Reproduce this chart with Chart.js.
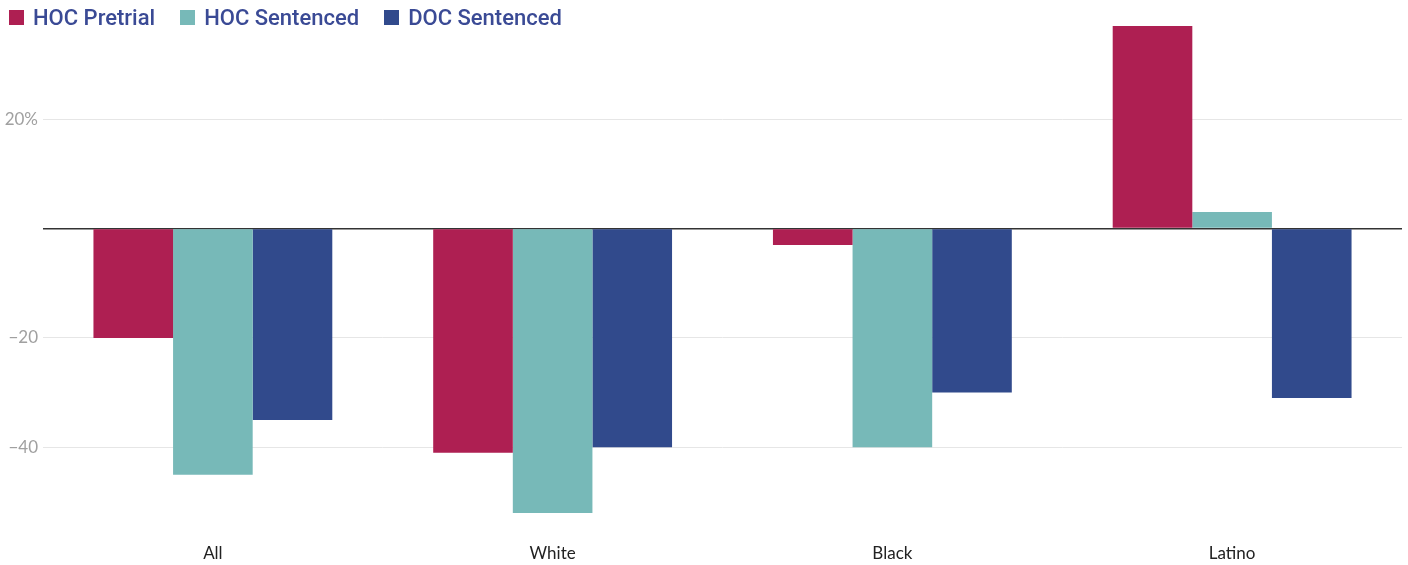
<!DOCTYPE html>
<html>
<head>
<meta charset="utf-8">
<script src="https://cdn.jsdelivr.net/npm/chart.js@4"></script>
<style>
  html, body { margin: 0; padding: 0; background: #fff; overflow: hidden; }
  #wrap { position: relative; width: 1408px; height: 565px; }
  #wrap canvas { display: block; }
  #legend { position: absolute; left: 9px; top: 5px; display: flex; gap: 25px; font-family: 'Roboto', sans-serif; font-weight: 500; font-size: 22px; color: #3a4a95; z-index: 2; }
  #legend span.item { display: flex; align-items: center; }
  #legend span.box { display: inline-block; width: 15px; height: 15px; margin-right: 9px; }
</style>
</head>
<body>
<div id="wrap">
  <div id="legend"></div>
  <canvas id="chart" width="1408" height="565"></canvas>
</div>
<script>
  const categories = ['All', 'White', 'Black', 'Latino']
  const seriesNames = ['HOC Pretrial', 'HOC Sentenced', 'DOC Sentenced']
  const hocPretrial = [-20, -41, -3, 37]
  const hocSentenced = [-45, -52, -40, 3]
  const docSentenced = [-35, -40, -30, -31]
  const yTicks = [-40, -20, 0, 20]
  const colors = ['#ae1f52', '#77b9b8', '#314a8c']

  const series = [hocPretrial, hocSentenced, docSentenced]

  const legend = document.getElementById('legend')
  seriesNames.forEach((name, i) => {
    const item = document.createElement('span')
    item.className = 'item'
    item.innerHTML = '<span class="box" style="background:' + colors[i] + '"></span>' + name
    legend.appendChild(item)
  })

  new Chart(document.getElementById('chart'), {
    type: 'bar',
    data: {
      labels: categories,
      datasets: series.map((data, i) => ({
        label: seriesNames[i],
        data,
        backgroundColor: colors[i],
        borderWidth: 0,
        barPercentage: 1,
        categoryPercentage: 0.703
      }))
    },
    options: {
      responsive: false,
      animation: false,
      layout: { padding: { top: 26, right: 6, bottom: 2, left: 0 } },
      plugins: { legend: { display: false }, tooltip: { enabled: false } },
      scales: {
        x: {
          afterFit: axis => { axis.height = 50 },
          grid: { display: false, drawTicks: false },
          border: { display: false },
          ticks: { padding: 30, color: '#222', font: { family: 'Lato', size: 17 } }
        },
        y: {
          min: -52,
          max: 37,
          afterBuildTicks: axis => { axis.ticks = yTicks.map(v => ({ value: v })) },
          afterFit: axis => { axis.width = 43 },
          border: { display: false },
          grid: {
            drawTicks: false,
            color: ctx => ctx.tick && ctx.tick.value === 0 ? '#333' : '#e6e6e6',
            lineWidth: ctx => ctx.tick && ctx.tick.value === 0 ? 1.5 : 1
          },
          ticks: {
            padding: 5,
            color: '#a0a0a0',
            font: { family: 'Lato', size: 17 },
            callback: v => v === 0 ? '' : v > 0 ? v + '%' : '\u2212' + Math.abs(v)
          }
        }
      }
    }
  })
</script>
</body>
</html>
